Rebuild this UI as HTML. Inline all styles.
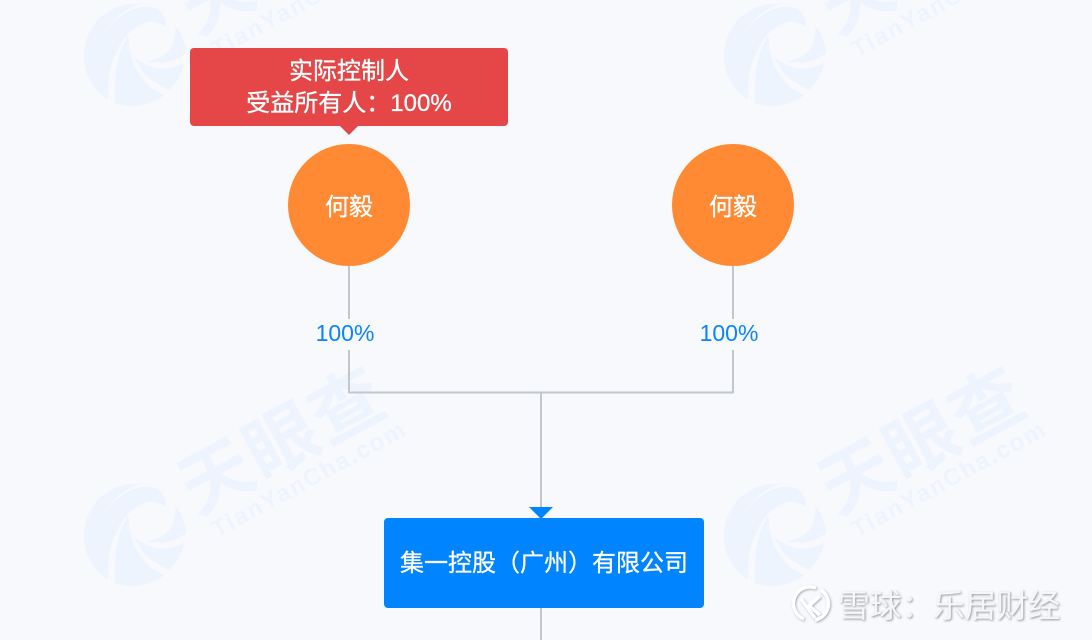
<!DOCTYPE html>
<html lang="zh">
<head>
<meta charset="utf-8">
<style>
html,body{margin:0;padding:0;background:#f7f9fd;width:1092px;height:640px;overflow:hidden}
svg{display:block;position:absolute;left:0;top:0}
text{font-family:"Liberation Sans","Noto Sans CJK SC",sans-serif}
.wm{fill:#eef4fd;font-weight:700;font-size:72px;letter-spacing:2px}
.wm2{fill:#eef4fd;font-weight:700;font-size:24px}
.w{fill:#fff;text-anchor:middle;stroke:#fff;stroke-width:.3px}
.pct{fill:#0a84ff;font-size:23px;text-anchor:middle}
</style>
</head>
<body>
<svg width="1092" height="640" viewBox="0 0 1092 640" xmlns="http://www.w3.org/2000/svg">
<rect width="1092" height="640" fill="#f7f9fd"/>

<!-- watermark logos -->
<g fill="#eef4fd">
<g transform="translate(76,-2) scale(.3333)">
<path d="M190 18A156 156 0 0 0 95 305L98 270C95 220 120 140 165 100C195 70 240 60 268 88C275 60 250 25 215 26C160 25 115 65 82 106C110 65 150 30 190 18Z"/>
<path d="M157 112C125 160 110 240 118 316A156 156 0 0 0 265 292C205 265 160 210 157 112Z"/>
<path d="M175 175C190 220 230 255 280 275A156 156 0 0 0 325 195C290 215 225 225 175 175Z"/>
<path d="M298 82A156 156 0 0 1 330 165C300 190 260 200 210 190C270 185 305 140 298 82Z"/>
</g>
<g transform="translate(716,-2) scale(.3333)">
<path d="M190 18A156 156 0 0 0 95 305L98 270C95 220 120 140 165 100C195 70 240 60 268 88C275 60 250 25 215 26C160 25 115 65 82 106C110 65 150 30 190 18Z"/>
<path d="M157 112C125 160 110 240 118 316A156 156 0 0 0 265 292C205 265 160 210 157 112Z"/>
<path d="M175 175C190 220 230 255 280 275A156 156 0 0 0 325 195C290 215 225 225 175 175Z"/>
<path d="M298 82A156 156 0 0 1 330 165C300 190 260 200 210 190C270 185 305 140 298 82Z"/>
</g>
<g transform="translate(76,478) scale(.3333)">
<path d="M190 18A156 156 0 0 0 95 305L98 270C95 220 120 140 165 100C195 70 240 60 268 88C275 60 250 25 215 26C160 25 115 65 82 106C110 65 150 30 190 18Z"/>
<path d="M157 112C125 160 110 240 118 316A156 156 0 0 0 265 292C205 265 160 210 157 112Z"/>
<path d="M175 175C190 220 230 255 280 275A156 156 0 0 0 325 195C290 215 225 225 175 175Z"/>
<path d="M298 82A156 156 0 0 1 330 165C300 190 260 200 210 190C270 185 305 140 298 82Z"/>
</g>
<g transform="translate(716,478) scale(.3333)">
<path d="M190 18A156 156 0 0 0 95 305L98 270C95 220 120 140 165 100C195 70 240 60 268 88C275 60 250 25 215 26C160 25 115 65 82 106C110 65 150 30 190 18Z"/>
<path d="M157 112C125 160 110 240 118 316A156 156 0 0 0 265 292C205 265 160 210 157 112Z"/>
<path d="M175 175C190 220 230 255 280 275A156 156 0 0 0 325 195C290 215 225 225 175 175Z"/>
<path d="M298 82A156 156 0 0 1 330 165C300 190 260 200 210 190C270 185 305 140 298 82Z"/>
</g>
</g>

<!-- watermark text -->
<g transform="translate(197,516) rotate(-28.5)"><text class="wm" x="0" y="0">天眼查</text></g>
<g transform="translate(837,516) rotate(-28.5)"><text class="wm" x="0" y="0">天眼查</text></g>
<g transform="translate(197,36) rotate(-28.5)"><text class="wm" x="0" y="0">天眼查</text></g>
<g transform="translate(837,36) rotate(-28.5)"><text class="wm" x="0" y="0">天眼查</text></g>
<g transform="translate(217,538) rotate(-28.5)"><text class="wm2" x="0" y="0" textLength="216" lengthAdjust="spacing">TianYanCha.com</text></g>
<g transform="translate(857,538) rotate(-28.5)"><text class="wm2" x="0" y="0" textLength="216" lengthAdjust="spacing">TianYanCha.com</text></g>
<g transform="translate(217,58) rotate(-28.5)"><text class="wm2" x="0" y="0" textLength="216" lengthAdjust="spacing">TianYanCha.com</text></g>
<g transform="translate(857,58) rotate(-28.5)"><text class="wm2" x="0" y="0" textLength="216" lengthAdjust="spacing">TianYanCha.com</text></g>

<!-- connectors -->
<g fill="none" stroke="#c1c7cc" stroke-width="2">
<path d="M349 265V319M349 350V392.500H733V350M733 319V265"/>
<path d="M541 392V510M541 607V640"/>
</g>
<path d="M529 507H553L541 519Z" fill="#0084ff"/>

<!-- tag -->
<rect x="190" y="48" width="318" height="78" rx="4" fill="#e54647"/>
<path d="M340 126H358L349 135Z" fill="#e54647"/>
<text class="w" x="349" y="79" font-size="24">实际控制人</text>
<text class="w" x="349" y="111" font-size="24">受益所有人：100%</text>

<!-- persons -->
<circle cx="349" cy="205" r="61" fill="#ff8a33"/>
<circle cx="733" cy="205" r="61" fill="#ff8a33"/>
<text class="w" x="349" y="215" font-size="24">何毅</text>
<text class="w" x="733" y="215" font-size="24">何毅</text>

<text class="pct" x="345" y="341">100%</text>
<text class="pct" x="729" y="341">100%</text>

<!-- company -->
<rect x="384" y="518" width="320" height="90" rx="4" fill="#0084ff"/>
<text class="w" x="544" y="571" font-size="24">集一控股（广州）有限公司</text>

<!-- snowball mark -->
<g fill="none" stroke="#ffffff" stroke-width="3.500" style="filter:drop-shadow(1px 1px 1px rgba(0,0,0,.3))">
<path d="M816 588A16.500 16.500 0 0 0 804 619"/>
<path d="M821 590A16.500 16.500 0 0 1 815 620"/>
<path d="M801 599L815 618M820 596L809 606 820 615"/>
</g>
<text x="838" y="617" font-size="32" fill="#f4f6fa" style="filter:drop-shadow(1px 1px 1px rgba(0,0,0,.4))" textLength="222" lengthAdjust="spacing">雪球：乐居财经</text>
</svg>
</body>
</html>
